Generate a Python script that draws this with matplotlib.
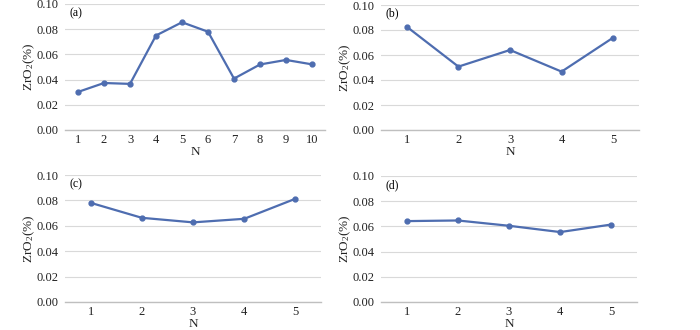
import numpy as np
import matplotlib
matplotlib.use('Agg')
import matplotlib.pyplot as plt

plt.rcParams['font.family'] = 'Liberation Serif'
plt.rcParams['mathtext.fontset'] = 'custom'
plt.rcParams['mathtext.rm'] = 'Liberation Serif'
plt.rcParams['mathtext.it'] = 'Liberation Serif:italic'

# data
n_a = [1, 2, 3, 4, 5, 6, 7, 8, 9, 10]
zr_a = [0.0302, 0.0373, 0.0366, 0.0750, 0.0855, 0.0780, 0.0408, 0.0520, 0.0556, 0.0521]
n_b = [1, 2, 3, 4, 5]
zr_b = [0.0826, 0.0507, 0.0640, 0.0467, 0.0739]
n_c = [1, 2, 3, 4, 5]
zr_c = [0.0781, 0.0663, 0.0627, 0.0655, 0.0813]
n_d = [1, 2, 3, 4, 5]
zr_d = [0.0642, 0.0647, 0.0605, 0.0555, 0.0615]
yticks = [0.00, 0.02, 0.04, 0.06, 0.08, 0.10]

W, H = 700, 330
fig = plt.figure(figsize=(7, 3.3), dpi=100)

line_c = '#4e6db0'

def panel(px, n, vals, tag):
    l, r, t, b = px
    ax = fig.add_axes([l / W, 1 - b / H, (r - l) / W, (b - t) / H])
    pos = np.arange(len(n))
    ax.plot(pos, vals, color=line_c, lw=1.6, marker='o', ms=3.5, zorder=3)
    ax.set_xlim(-0.5, len(n) - 0.5)
    ax.set_ylim(0, 0.1)
    ax.set_yticks(yticks)
    ax.set_yticklabels(['%.2f' % v for v in yticks])
    ax.set_xticks(pos)
    ax.set_xticklabels([str(v) for v in n])
    for s in ['top', 'right', 'left']:
        ax.spines[s].set_visible(False)
    ax.spines['bottom'].set_color('#bfbfbf')
    ax.spines['bottom'].set_linewidth(1.0)
    ax.grid(axis='y', color='#d9d9d9', lw=0.8)
    ax.set_axisbelow(True)
    ax.tick_params(axis='x', length=0, labelsize=9, colors='#222222', pad=3)
    ax.tick_params(axis='y', length=0, labelsize=9, colors='#222222', pad=5)
    ax.set_xlabel('N', fontsize=9.5, labelpad=0, color='#222222')
    ax.set_ylabel('ZrO$_2$(%)', fontsize=9.5, labelpad=-1, color='#222222')
    ax.text(0.018, 0.93, tag, transform=ax.transAxes, fontsize=8.5, va='center', ha='left')
    return ax

panel((65, 325, 4, 130), n_a, zr_a, '(a)')
panel((381, 639, 5, 130), n_b, zr_b, '(b)')
panel((65, 321, 175, 302), n_c, zr_c, '(c)')
panel((381, 637, 176, 302), n_d, zr_d, '(d)')

fig.savefig('out.png', dpi=100)
